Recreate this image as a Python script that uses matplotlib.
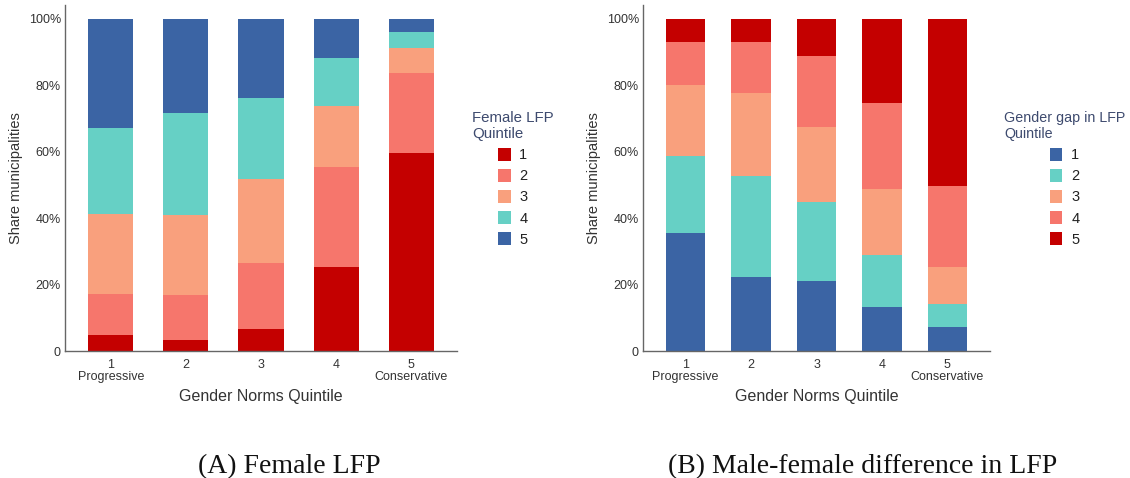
import matplotlib
matplotlib.use("Agg")
import matplotlib.pyplot as plt
from matplotlib.patches import Patch
import numpy as np

# Gender norms quintiles on the x axis
norm_quintiles = [1, 2, 3, 4, 5]
norm_labels = ["1\nProgressive", "2", "3", "4", "5\nConservative"]

# Panel A: share of municipalities in each female LFP quintile (percent)
flfp_q1 = [4.7, 3.4, 6.6, 25.4, 59.7]
flfp_q2 = [12.6, 13.5, 19.8, 29.9, 24.1]
flfp_q3 = [24.1, 24.2, 25.3, 18.5, 7.5]
flfp_q4 = [25.9, 30.7, 24.5, 14.3, 4.9]
flfp_q5 = [32.7, 28.2, 23.8, 11.9, 3.8]

# Panel B: share of municipalities in each gender-gap-in-LFP quintile (percent)
gap_q1 = [35.4, 22.4, 21.1, 13.4, 7.1]
gap_q2 = [23.4, 30.3, 23.8, 15.6, 7.1]
gap_q3 = [21.4, 25.0, 22.7, 19.7, 11.1]
gap_q4 = [12.9, 15.5, 21.3, 26.0, 24.5]
gap_q5 = [6.9, 6.8, 11.1, 25.3, 50.2]

legend_labels = ["1", "2", "3", "4", "5"]

RED = "#C40000"
SALMON = "#F6766C"
PEACH = "#F9A07D"
TEAL = "#66D0C5"
BLUE = "#3B64A4"

plt.rcParams["font.family"] = ["Liberation Sans", "DejaVu Sans"]

fig = plt.figure(figsize=(11.3, 4.78), dpi=100)
W, H = 1130, 478


def add_axes_px(x0, x1, y_top, y_bottom):
    return fig.add_axes([x0 / W, 1 - y_bottom / H, (x1 - x0) / W, (y_bottom - y_top) / H])


def draw_panel(ax, series, colors, width, xlim, legend_title, title_size,
               leg_anchor, ylabel_x):
    x = np.array(norm_quintiles, dtype=float)
    bottom = np.zeros(len(x))
    for vals, col in zip(series, colors):
        v = np.array(vals) / 100.0
        ax.bar(x, v, width=width, bottom=bottom, color=col, edgecolor="none", linewidth=0)
        bottom += v
    ax.set_xlim(*xlim)
    ax.set_ylim(0, 1.042)
    ax.set_yticks([0, 0.2, 0.4, 0.6, 0.8, 1.0])
    ax.set_yticklabels(["0", "20%", "40%", "60%", "80%", "100%"])
    ax.set_xticks(x)
    ax.set_xticklabels(norm_labels, linespacing=1.0)
    ax.tick_params(axis="both", length=0, labelsize=9, colors="#333333")
    ax.tick_params(axis="x", pad=6)
    ax.tick_params(axis="y", pad=3)
    for side in ("top", "right"):
        ax.spines[side].set_visible(False)
    for side in ("left", "bottom"):
        ax.spines[side].set_color("#666666")
        ax.spines[side].set_linewidth(1.0)
    ax.set_xlabel("Gender Norms Quintile", fontsize=11.5, color="#333333")
    ax.xaxis.set_label_coords(0.5, -0.11)
    ax.set_ylabel("Share municipalities", fontsize=10.5, color="#333333")
    ax.yaxis.set_label_coords(ylabel_x, 0.5)

    handles = [Patch(facecolor=c, edgecolor="none") for c in colors]
    leg = fig.legend(handles, legend_labels, title=legend_title, loc="upper left",
                     bbox_to_anchor=leg_anchor, frameon=False, fontsize=10.5,
                     title_fontsize=title_size, handlelength=0.85, handleheight=1.0,
                     handletextpad=0.6, labelspacing=0.45, borderaxespad=0,
                     borderpad=0)
    leg.get_title().set_color("#3D4A6E")
    leg.get_title().set_multialignment("left")
    for t in leg.get_texts():
        t.set_color("#222222")
    return leg


# Panel A
axA = add_axes_px(65, 457, 5, 351)
draw_panel(axA, [flfp_q1, flfp_q2, flfp_q3, flfp_q4, flfp_q5],
           [RED, SALMON, PEACH, TEAL, BLUE], 0.6, (0.39, 5.61),
           "Female LFP\nQuintile", 10.8, (472 / W, 1 - 111 / H), (23 - 65) / 392)

# Panel B
axB = add_axes_px(643, 990, 5, 351)
draw_panel(axB, [gap_q1, gap_q2, gap_q3, gap_q4, gap_q5],
           [BLUE, TEAL, PEACH, SALMON, RED], 0.6, (0.35, 5.65),
           "Gender gap in LFP\nQuintile", 10.3, (1004 / W, 1 - 111 / H),
           (601 - 643) / 347)

# Sub-figure captions
cap_font = ["Liberation Serif", "DejaVu Serif"]
fig.text(198 / W, 1 - 473 / H, "(A) Female LFP", ha="left", va="baseline",
         fontsize=20, family=cap_font, color="#111111")
fig.text(668 / W, 1 - 473 / H, "(B) Male-female difference in LFP", ha="left",
         va="baseline", fontsize=20, family=cap_font, color="#111111")

fig.savefig("out.png", dpi=100, facecolor="white")
